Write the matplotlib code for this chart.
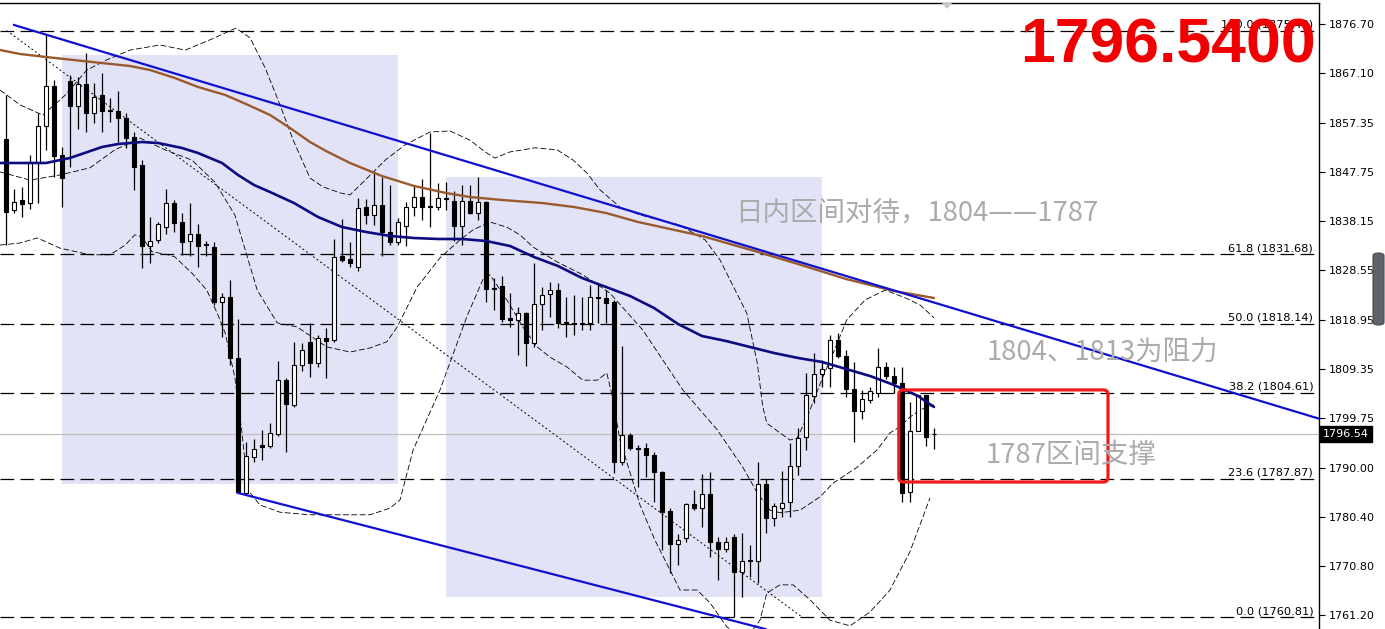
import matplotlib
matplotlib.use('Agg')
import matplotlib.pyplot as plt
from matplotlib.patches import Rectangle, FancyBboxPatch, Polygon
import numpy as np

# ---------------- data ----------------
opens = [1854.23, 1840.36, 1842.31, 1841.72, 1849.54, 1856.77, 1864.59, 1851.10, 1865.56, 1860.68,
         1864.98, 1859.31, 1862.83, 1859.90, 1859.70, 1858.33, 1854.62, 1849.15, 1833.32, 1834.49,
         1837.03, 1841.72, 1838.01, 1834.30, 1835.67, 1833.71, 1833.13, 1822.38, 1823.36, 1811.44,
         1785.06, 1792.09, 1794.44, 1794.24, 1796.59, 1807.14, 1802.25, 1810.07, 1814.56, 1810.46,
         1815.34, 1814.95, 1831.37, 1830.78, 1829.22, 1840.94, 1839.38, 1841.33, 1836.06, 1834.10,
         1837.23, 1840.94, 1842.89, 1841.14, 1840.94, 1842.70, 1842.11, 1837.23, 1842.11, 1839.77,
         1841.92, 1825.11, 1825.51, 1819.25, 1818.86, 1820.23, 1814.37, 1821.99, 1823.94, 1824.73,
         1818.47, 1818.27, 1818.08, 1818.27, 1823.36, 1823.16, 1822.38, 1791.11, 1796.39, 1793.85,
         1793.85, 1792.48, 1789.16, 1781.54, 1775.09, 1776.26, 1782.91, 1782.13, 1784.86, 1775.48,
         1774.11, 1776.46, 1769.62, 1771.97, 1771.77, 1786.81, 1780.17, 1782.13, 1783.30, 1790.33,
         1796.00, 1804.01, 1808.31, 1809.48, 1814.95, 1811.83, 1805.38, 1801.08, 1803.23, 1804.60,
         1809.68, 1807.92, 1806.55, 1785.25, 1797.17, 1804.21, 1796.54]
highs = [1862.83, 1844.46, 1844.85, 1851.10, 1859.31, 1874.55, 1865.76, 1852.67, 1866.73, 1866.34,
         1871.03, 1865.17, 1867.13, 1862.24, 1863.61, 1859.31, 1855.60, 1850.13, 1838.99, 1838.01,
         1844.46, 1842.31, 1839.77, 1841.72, 1837.62, 1834.30, 1834.10, 1824.14, 1826.68, 1819.06,
         1795.02, 1795.61, 1797.37, 1798.74, 1810.85, 1807.53, 1814.56, 1814.37, 1818.27, 1815.93,
         1817.30, 1834.69, 1838.60, 1834.10, 1842.70, 1842.50, 1847.98, 1846.80, 1845.24, 1838.79,
         1841.92, 1845.05, 1846.41, 1855.40, 1845.63, 1845.83, 1844.07, 1845.24, 1845.24, 1846.80,
         1842.11, 1827.07, 1827.46, 1824.14, 1821.40, 1820.42, 1829.99, 1825.31, 1826.29, 1826.09,
         1823.36, 1823.75, 1823.36, 1825.70, 1825.70, 1824.73, 1822.77, 1813.78, 1796.78, 1794.44,
         1794.83, 1793.07, 1789.35, 1782.13, 1777.04, 1783.11, 1785.64, 1788.77, 1789.16, 1776.46,
         1776.46, 1777.04, 1777.24, 1774.90, 1791.11, 1787.79, 1783.11, 1789.35, 1794.83, 1797.76,
         1808.51, 1812.41, 1811.05, 1815.93, 1816.32, 1813.00, 1810.66, 1805.19, 1805.77, 1813.39,
         1810.66, 1809.68, 1809.68, 1802.84, 1804.21, 1804.21, 1797.76]
lows = [1833.52, 1839.77, 1838.99, 1840.55, 1841.72, 1852.08, 1846.80, 1840.94, 1848.76, 1856.18,
        1855.60, 1857.36, 1855.60, 1857.55, 1853.64, 1852.47, 1844.26, 1829.02, 1829.99, 1833.91,
        1835.67, 1836.06, 1831.56, 1831.37, 1829.22, 1831.37, 1821.79, 1815.54, 1810.07, 1785.06,
        1785.06, 1791.11, 1791.51, 1793.85, 1796.20, 1793.07, 1801.86, 1808.90, 1807.72, 1809.68,
        1807.53, 1814.56, 1830.20, 1829.22, 1828.43, 1837.62, 1837.42, 1831.37, 1833.52, 1833.52,
        1833.32, 1839.18, 1838.40, 1837.03, 1840.36, 1840.36, 1834.30, 1833.52, 1839.57, 1838.40,
        1822.38, 1820.82, 1818.47, 1817.49, 1812.02, 1809.87, 1813.58, 1816.91, 1819.45, 1817.30,
        1815.54, 1815.93, 1816.91, 1816.91, 1818.27, 1818.27, 1788.96, 1790.53, 1793.46, 1786.23,
        1788.18, 1783.30, 1773.92, 1769.43, 1771.00, 1775.48, 1781.74, 1778.42, 1772.55, 1768.06,
        1773.53, 1760.81, 1764.74, 1768.64, 1767.48, 1777.24, 1778.61, 1780.37, 1780.37, 1788.57,
        1793.46, 1802.64, 1805.77, 1805.77, 1811.44, 1803.82, 1795.02, 1799.52, 1802.64, 1803.82,
        1807.33, 1804.60, 1783.30, 1783.30, 1797.17, 1794.24, 1793.66]
closes = [1839.97, 1841.92, 1841.53, 1849.54, 1856.77, 1864.59, 1850.91, 1846.61, 1860.68, 1864.98,
          1859.31, 1862.43, 1859.70, 1859.70, 1858.33, 1854.42, 1848.76, 1833.32, 1834.30, 1837.62,
          1841.72, 1837.82, 1834.10, 1835.67, 1833.32, 1833.52, 1822.38, 1823.36, 1811.44, 1785.25,
          1792.29, 1793.66, 1794.05, 1796.78, 1807.14, 1802.45, 1810.07, 1813.00, 1810.46, 1815.34,
          1814.76, 1831.17, 1830.59, 1830.00, 1840.75, 1839.38, 1841.33, 1836.06, 1834.10, 1838.01,
          1840.94, 1842.89, 1840.94, 1840.94, 1842.70, 1842.50, 1837.23, 1842.11, 1839.77, 1841.92,
          1824.92, 1824.92, 1819.06, 1818.86, 1820.23, 1814.37, 1821.99, 1823.75, 1824.73, 1818.27,
          1818.27, 1818.08, 1818.27, 1823.36, 1823.16, 1822.18, 1791.11, 1796.39, 1793.85, 1793.66,
          1792.48, 1789.16, 1781.34, 1775.09, 1775.87, 1782.91, 1782.13, 1784.86, 1775.48, 1774.11,
          1775.48, 1769.62, 1771.77, 1771.77, 1786.81, 1780.17, 1782.52, 1783.11, 1790.33, 1795.80,
          1804.21, 1808.31, 1809.29, 1814.95, 1811.83, 1805.38, 1801.08, 1803.42, 1804.99, 1809.68,
          1807.92, 1806.55, 1785.06, 1797.17, 1804.21, 1796.00, 1796.54]

# moving averages (bar index, price)
ma_navy_idx = [-0.75, 0, 5, 8, 12, 14, 17, 19, 22, 24, 27, 29, 31, 33, 36, 39, 42, 45, 48, 51, 54,
               57, 60, 63, 66, 69, 72, 75, 78, 81, 84, 87, 90, 93, 96, 99, 102, 105, 108, 111, 114, 116]
ma_navy_val = [1849.54, 1849.54, 1849.54, 1850.52, 1852.66, 1853.25, 1853.64, 1853.45, 1852.47,
               1851.49, 1849.54, 1847.20, 1845.24, 1843.87, 1841.72, 1838.99, 1837.03, 1836.06,
               1835.28, 1834.88, 1834.69, 1834.69, 1834.30, 1833.32, 1831.17, 1829.41, 1827.07,
               1825.31, 1823.55, 1821.21, 1818.08, 1815.73, 1814.76, 1813.58, 1812.41, 1811.44,
               1810.66, 1809.29, 1807.92, 1806.16, 1804.01, 1801.86]
ma_brown_idx = [-0.75, 1.75, 5, 9.6, 15.5, 18, 21.1, 24, 27.4, 30, 33, 35.5, 38, 40, 43, 47, 51, 55,
                58, 62, 67, 71, 75, 79, 87, 94, 99, 105, 111, 116]
ma_brown_val = [1871.62, 1870.84, 1870.25, 1869.47, 1868.49, 1867.71, 1866.15, 1864.39, 1862.83,
                1861.07, 1858.92, 1856.38, 1853.64, 1851.88, 1849.54, 1846.99, 1845.05, 1843.68,
                1842.89, 1842.31, 1841.72, 1840.94, 1839.77, 1838.01, 1835.28, 1832.15, 1829.80,
                1826.87, 1824.53, 1823.16]

# Bollinger bands (bar index, price)
bb_up_idx = [-0.75, 1.75, 4.6, 7.4, 10.1, 12.6, 15.5, 19.25, 22.4, 25.5, 28.75, 30.5, 32.4, 34.25,
             35.9, 38, 39.6, 41.75, 43, 44.9, 47.4, 49.9, 53, 55.5, 58, 59.9, 61.1, 63, 66.1, 68.9,
             70.9, 72.6, 74.25, 76.75, 79.25, 84.25, 87.4, 89.25, 90.5, 92.6, 93.9, 94.6, 95.1,
             96.75, 98, 98.9, 100.25, 102.1, 103.4, 105.1, 107.4, 109.9, 112.4, 114.25, 116]
bb_up_val = [1863.8, 1860.9, 1858.9, 1862.8, 1867.7, 1869.7, 1871.6, 1872.6, 1871.6, 1873.6, 1875.9,
             1874.0, 1868.1, 1860.9, 1854.0, 1846.6, 1844.9, 1843.7, 1843.3, 1846.2, 1850.1, 1853.1,
             1855.6, 1855.8, 1854.0, 1851.7, 1850.5, 1851.7, 1852.5, 1852.1, 1850.1, 1847.6, 1844.3,
             1840.9, 1839.4, 1837.4, 1834.5, 1830.6, 1826.7, 1820.2, 1810.5, 1801.9, 1798.7, 1796.8,
             1795.4, 1795.8, 1800.3, 1807.7, 1812.4, 1818.9, 1822.8, 1824.7, 1823.2, 1821.8, 1819.3]
bb_mid_idx = [-0.75, 3, 6.75, 10.5, 13.6, 16.75, 19.9, 23.25, 26.1, 28.6, 31.4, 33.9, 36.4, 40.1, 43,
              45.5, 47.6, 48.9, 51.4, 54.25, 56.75, 58.4, 60.5, 62.6, 64.25, 65.9, 68.9, 72.1, 75.5,
              79.6, 84.6, 88.9, 92.1, 93.9, 95.5, 96.75, 99.25, 101.75, 103.4, 106.4, 108.9, 110.5,
              111.75, 113, 114.25, 116]
bb_mid_val = [1847.8, 1846.2, 1847.2, 1848.6, 1852.1, 1854.4, 1852.1, 1850.1, 1845.8, 1839.4, 1824.7,
              1818.3, 1817.5, 1813.6, 1812.6, 1813.4, 1814.6, 1817.5, 1825.3, 1831.0, 1834.5, 1836.5,
              1838.0, 1837.0, 1835.5, 1833.1, 1830.2, 1827.7, 1824.1, 1816.9, 1805.2, 1797.4, 1790.1,
              1785.1, 1781.7, 1781.2, 1781.7, 1784.3, 1787.0, 1790.1, 1793.5, 1796.8, 1798.0, 1799.9,
              1801.3, 1802.3]
bb_lo_idx = [-0.75, 1.75, 3.9, 6.75, 10.5, 13, 14.9, 16.1, 17, 18.25, 20.25, 21.1, 23.25, 25.1, 26.4,
             27.4, 28.6, 29.5, 30.25, 31.75, 34.25, 38, 41.75, 45.5, 48, 49.25, 50.9, 54.25, 57.6,
             59.6, 60.5, 62.6, 64.6, 66.4, 68, 70.1, 72.1, 73.9, 75.1, 75.75, 76.75, 79.25, 81.1, 83,
             84.25, 86.4, 88, 90.1, 92.4, 94.25, 95.1, 96.75, 98.4, 100.5, 103, 105.5, 108, 110.5,
             113, 115.5]
bb_lo_val = [1833.5, 1833.9, 1834.9, 1832.9, 1831.6, 1831.6, 1833.5, 1835.5, 1835.1, 1832.2, 1831.6,
             1831.2, 1828.0, 1824.7, 1820.2, 1816.3, 1807.7, 1796.8, 1785.6, 1782.7, 1781.3, 1780.8,
             1780.8, 1780.8, 1782.1, 1783.7, 1793.5, 1805.2, 1819.5, 1826.7, 1827.7, 1822.8, 1817.5,
             1813.6, 1811.6, 1809.7, 1807.1, 1807.1, 1808.5, 1804.2, 1795.4, 1782.7, 1775.9, 1770.0,
             1766.1, 1766.1, 1763.6, 1758.9, 1756.3, 1760.2, 1765.5, 1767.1, 1767.1, 1764.2, 1760.2,
             1759.1, 1761.8, 1766.1, 1773.6, 1784.1]

# drawn objects
channel_upper = ([1.0, 164.25], [1876.51, 1799.52])
channel_lower = ([29.0, 94.9], [1785.06, 1758.48])
fib_anchor = ([0.1, 99.5], [1875.40, 1760.81])
fib_ratio = ['100.0', '61.8', '50.0', '38.2', '23.6', '0.0']
fib_price = [1875.40, 1831.68, 1818.14, 1804.61, 1787.87, 1760.81]
zones = [(7, 49, 1786.8, 1870.6), (55, 102, 1764.7, 1846.8)]  # (start idx, end idx, low, high)
red_box = (111.6, 137.75, 1787.2, 1805.2)
last_price = 1796.54
yticks = [1876.70, 1867.10, 1857.35, 1847.75, 1838.15, 1828.55, 1818.95, 1809.35, 1799.75,
          1790.00, 1780.40, 1770.80, 1761.20]
notes = [("日内区间对待，1804——1787", 91.1, 1839.8),
         ("1804、1813为阻力", 122.6, 1812.6),
         ("1787区间支撑", 122.4, 1792.3)]
big_label = "1796.5400"

# ---------------- figure ----------------
W, H = 1385, 629
fig = plt.figure(figsize=(W / 100, H / 100), dpi=100)
ax = fig.add_axes([0, 0, 1319 / W, 626.5 / H])
ax.set_xlim(-0.75, 164.125)
ax.set_ylim(1758.48, 1880.90)

for s in ['left', 'bottom']:
    ax.spines[s].set_visible(False)
for s in ['top', 'right']:
    ax.spines[s].set_linewidth(1.0)
ax.set_xticks([])
ax.yaxis.tick_right()
ax.set_yticks(yticks)
ax.set_yticklabels([f"{v:.2f}" for v in yticks])
ax.tick_params(axis='y', direction='out', length=4, width=0.8, labelsize=8, pad=3)

# zones
for x0, x1, lo, hi in zones:
    ax.add_patch(Rectangle((x0, lo), x1 - x0, hi - lo, facecolor='#E3E3F7', edgecolor='none', zorder=0))

# fib levels
for r, p in zip(fib_ratio, fib_price):
    ax.plot([-0.75, 164.125], [p, p], color='black', lw=0.9, ls=(0, (11, 5)), zorder=2)
    ax.text(163.4, p + 0.2, f"{r} ({p:.2f})", ha='right', va='bottom', fontsize=8.2,
            color='black', zorder=3)
ax.plot(fib_anchor[0], fib_anchor[1], color='black', lw=0.7, ls=(0, (2, 2.5)), zorder=2)

# current price line
ax.axhline(last_price, color='#BEBEBE', lw=0.9, zorder=1)

# bollinger
ax.plot(bb_up_idx, bb_up_val, color='black', lw=0.6, ls=(0, (7, 3)), zorder=3)
ax.plot(bb_mid_idx, bb_mid_val, color='black', lw=0.6, ls=(0, (7, 3)), zorder=3)
ax.plot(bb_lo_idx, bb_lo_val, color='black', lw=0.6, ls=(0, (7, 3)), zorder=3)

# candles
o = np.array(opens); h = np.array(highs); l = np.array(lows); c = np.array(closes)
idx = np.arange(len(o))
up = c >= o
ax.vlines(idx, l, h, color='black', lw=0.9, zorder=5)
bot = np.minimum(o, c)
hgt = np.abs(c - o)
ax.bar(idx[up], hgt[up], bottom=bot[up], width=0.62, color='white', edgecolor='black', lw=0.8, zorder=6)
ax.bar(idx[~up], hgt[~up], bottom=bot[~up], width=0.62, color='black', edgecolor='black', lw=0.8, zorder=6)

# moving averages
ax.plot(ma_brown_idx, ma_brown_val, color='#9A5A2C', lw=1.7, zorder=7, solid_capstyle='round',
        solid_joinstyle='round')
ax.plot(ma_navy_idx, ma_navy_val, color='#0C0C80', lw=1.9, zorder=7, solid_capstyle='round',
        solid_joinstyle='round')

# channel lines
ax.plot(channel_upper[0], channel_upper[1], color='#1010D0', lw=1.6, zorder=8)
ax.plot(channel_lower[0], channel_lower[1], color='#1010D0', lw=1.6, zorder=8)

# red box
x0, x1, lo, hi = red_box
ax.add_patch(FancyBboxPatch((x0, lo), x1 - x0, hi - lo, boxstyle='round,pad=0,rounding_size=0.6',
                            mutation_aspect=1.5, facecolor='none', edgecolor='#F21B1B', lw=2.3, zorder=9))

# notes
for t, xi, yp in notes:
    ax.text(xi, yp, t, fontsize=19.8, color='#ABABAB', ha='left', va='center',
            family=['Noto Sans CJK SC', 'DejaVu Sans'], zorder=10)

# big price
fig.text(1316 / W, 1 - 46 / H, big_label, color='#F00000', fontsize=45, fontweight='bold',
         family=['Liberation Sans', 'DejaVu Sans'], ha='right', va='center', zorder=20)

# price tag
ax.annotate(f"{last_price:.2f}", xy=(1.0, last_price), xycoords=('axes fraction', 'data'),
            xytext=(3, 0), textcoords='offset points', ha='left', va='center', fontsize=8,
            color='white', bbox=dict(boxstyle='square,pad=0.25', fc='black', ec='black'),
            annotation_clip=False, zorder=20)

# right side widget
fig.patches.append(FancyBboxPatch((1373 / W, 1 - 325 / H), 11 / W, 72 / H,
                                  boxstyle='round,pad=0,rounding_size=0.004', transform=fig.transFigure,
                                  facecolor='#5E636B', edgecolor='#4A4E55', lw=0.8, figure=fig))

# chart shift marker at top
fig.patches.append(Polygon([[942 / W, 1 - 3 / H], [952 / W, 1 - 3 / H], [947 / W, 1 - 9 / H]],
                           closed=True, transform=fig.transFigure, facecolor='#C8C8C8',
                           edgecolor='none', figure=fig))

fig.savefig('out.png', dpi=100)
